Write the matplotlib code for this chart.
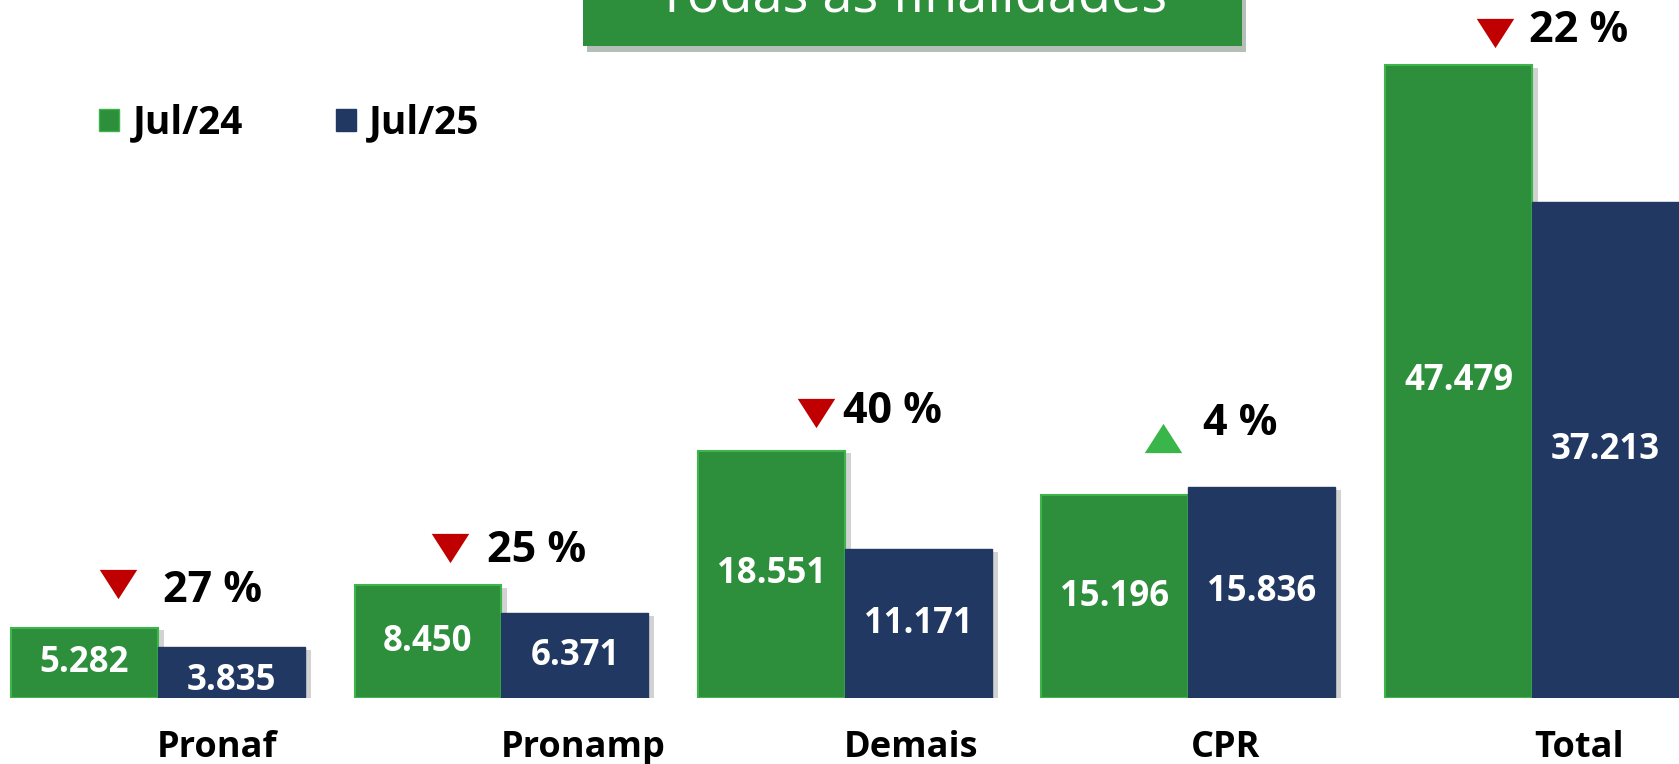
"""Grouped bar chart: Jul/24 vs Jul/25 by finalidade."""

import matplotlib

matplotlib.use("Agg")
import matplotlib.pyplot as plt
import matplotlib.patheffects as pe
from matplotlib.patches import Patch, Rectangle
from matplotlib.transforms import ScaledTranslation

categories = ["Pronaf", "Pronamp", "Demais", "CPR", "Total"]
jul24 = [5282, 8450, 18551, 15196, 47479]
jul25 = [3835, 6371, 11171, 15836, 37213]
pct_change = [27, 25, 40, 4, 22]
series_names = ["Jul/24", "Jul/25"]
title = "Todas as finalidades"

GREEN = "#2D8F3B"
GREEN_EDGE = "#3DB54A"
BLUE = "#213862"
RED = "#C00000"
UP_GREEN = "#3AB54A"

# layout tweaks (pixel offsets from group centre / top of the taller bar)
arrow_dx = [-40, -51, -29, -25, -37]
arrow_dy = [44, 37, 38, 49, 32]
text_dx = [5, -14, -2, 15, -3]
text_dy = [39, 37, 41, 65, 37]
label_dx = [59, 82, 66, 37, 47]

W, H, DPI = 1679, 764, 100
fig = plt.figure(figsize=(W / DPI, H / DPI), dpi=DPI)
ax = fig.add_axes([0, 66 / H, 1, 698 / H])

px_per_group = 343.5
x0 = 158
ax.set_xlim(-x0 / px_per_group, (W - x0) / px_per_group)
ax.set_ylim(0, 698 / (633 / 47479))
ax.axis("off")

bw = 147 / px_per_group
xs = list(range(len(categories)))
shadow = [pe.SimplePatchShadow(offset=(4, -2), alpha=0.22, shadow_rgbFace="#333333"), pe.Normal()]

b1 = ax.bar([x - bw / 2 for x in xs], jul24, width=bw, color=GREEN,
            edgecolor=GREEN_EDGE, linewidth=1.5, zorder=2)
b2 = ax.bar([x + bw / 2 for x in xs], jul25, width=bw, color=BLUE,
            edgecolor=BLUE, linewidth=1, zorder=3)
for r in list(b1) + list(b2):
    r.set_path_effects(shadow)

font = "Open Sans"


def fmt(v):
    return f"{v:,}".replace(",", ".")


value_dy = {(1, 0): -9}
for s, (bars, vals) in enumerate(((b1, jul24), (b2, jul25))):
    for i, (r, v) in enumerate(zip(bars, vals)):
        ax.annotate(fmt(v), xy=(r.get_x() + r.get_width() / 2, v / 2),
                    xytext=(0, value_dy.get((s, i), 0)), textcoords="offset pixels",
                    ha="center", va="center", color="white", fontsize=25,
                    fontweight="bold", family=font, zorder=5)

for i, x in enumerate(xs):
    top = max(jul24[i], jul25[i])
    down = jul25[i] < jul24[i]
    marker = [(-1, 0.78), (1, 0.78), (0, -0.78)] if down else [(-1, -0.78), (1, -0.78), (0, 0.78)]
    tr = ax.transData + ScaledTranslation(arrow_dx[i] / DPI, arrow_dy[i] / DPI, fig.dpi_scale_trans)
    ax.plot([x], [top], marker=marker, markersize=27, color=RED if down else UP_GREEN,
            markeredgewidth=0, transform=tr, clip_on=False, zorder=6)
    ax.annotate(f"{pct_change[i]} %", xy=(x, top), xytext=(text_dx[i], text_dy[i] - 2),
                textcoords="offset pixels", ha="left", va="center", fontsize=31,
                fontweight="bold", family=font, color="black", annotation_clip=False)
    ax.annotate(categories[i], xy=(x, 0), xytext=(label_dx[i], -59),
                textcoords="offset pixels", ha="center", va="baseline", fontsize=26,
                fontweight="bold", family=font, color="black", annotation_clip=False)

# legend
handles = [Patch(facecolor=GREEN, edgecolor=GREEN_EDGE, label=series_names[0]),
           Patch(facecolor=BLUE, edgecolor=BLUE, label=series_names[1])]
ax.legend(handles=handles, loc="center left", bbox_to_anchor=(80 / W, 1 - 123 / H),
          bbox_transform=fig.transFigure, ncol=2, frameon=False, handlelength=0.5,
          handleheight=0.5, handletextpad=0.35, columnspacing=2.4, borderpad=0,
          prop={"family": font, "weight": "bold", "size": 28})

# title banner
banner = Rectangle((583 / W, 1 - 46 / H), 659 / W, 60 / H, transform=fig.transFigure,
                   facecolor=GREEN, edgecolor="none", zorder=1)
banner.set_path_effects([pe.SimplePatchShadow(offset=(3, -4), alpha=0.3), pe.Normal()])
fig.patches.append(banner)
fig.text(912 / W, 1 - 11 / H, title, ha="center", va="baseline", color="white",
         fontsize=39, family=font, zorder=2)

fig.savefig("out.png", dpi=DPI)
